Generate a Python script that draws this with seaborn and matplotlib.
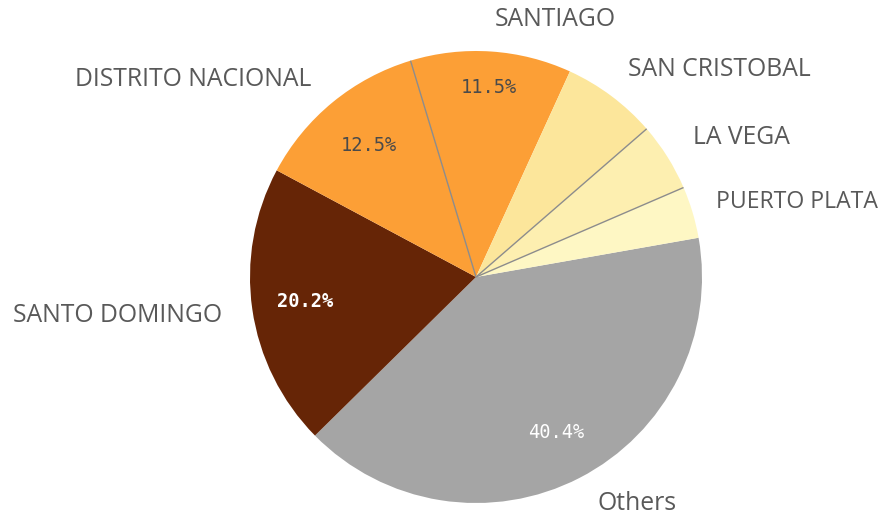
import numpy as np
import matplotlib
matplotlib.use("Agg")
import matplotlib.pyplot as plt
import seaborn as sns

sns.set_theme(style="white")
plt.rcParams['font.family'] = ['Open Sans', 'DejaVu Sans']

# ---- data ----
categories = ["Others", "SANTO DOMINGO", "DISTRITO NACIONAL", "SANTIAGO",
              "SAN CRISTOBAL", "LA VEGA", "PUERTO PLATA"]
shares = [40.4, 20.2, 12.5, 11.5, 6.8, 4.9, 3.7]
pct_labels = ["40.4%", "20.2%", "12.5%", "11.5%", "", "", ""]

# ---- styling / layout ----
colors = ["#a5a5a5", "#662506", "#fc9f36", "#fc9f36", "#fce69b", "#fdefb0", "#fef7c4"]
pct_colors = ["white", "white", "#4a4a4a", "#4a4a4a", "black", "black", "black"]
pct_weight = ["normal", "bold", "normal", "normal", "normal", "normal", "normal"]
pct_dist = [0.775, 0.765, 0.75, 0.84, 0.7, 0.7, 0.7]
# label anchor positions in pixel space (x, y, ha) and font sizes
label_px = [(597, 503, "left"), (222, 315, "right"), (311, 80, "right"),
            (555, 20, "center"), (628, 70, "left"), (693, 137, "left"),
            (716, 202, "left")]
label_size = [17.8, 17.8, 17.8, 17.8, 17.8, 17.8, 16.6]
cx, cy, R = 476, 277, 226
W, H = 893, 517

fig = plt.figure(figsize=(W / 100, H / 100), dpi=100)
ax = fig.add_axes([0, 0, 1, 1])
wedges, _ = ax.pie(shares, colors=colors, startangle=10, counterclock=False,
                   radius=1, center=(0, 0),
                   wedgeprops=dict(linewidth=0, edgecolor="none"))

# thin separator lines between light wedges
sep_after = {2, 4, 5}  # boundary after DN, SC, LV
for i, w in enumerate(wedges):
    if i in sep_after:
        th = np.deg2rad(w.theta1)
        ax.plot([0, np.cos(th)], [0, np.sin(th)], color="#8c8c8c", lw=1.0,
                solid_capstyle="butt", zorder=3)

# percentage labels
for i, w in enumerate(wedges):
    if not pct_labels[i]:
        continue
    mid = np.deg2rad((w.theta1 + w.theta2) / 2)
    d = pct_dist[i]
    ax.text(d * np.cos(mid), d * np.sin(mid), pct_labels[i],
            ha="center", va="center", fontsize=13.5,
            family="DejaVu Sans Mono", color=pct_colors[i],
            fontweight=pct_weight[i], zorder=4)

# category labels
for name, (px, py, ha), fs in zip(categories, label_px, label_size):
    ax.text((px - cx) / R, (cy - py) / R, name, ha=ha, va="center",
            fontsize=fs, color="#595959", zorder=4)

ax.set_xlim((0 - cx) / R, (W - cx) / R)
ax.set_ylim((cy - H) / R, (cy - 0) / R)
ax.set_aspect("auto")
ax.axis("off")
fig.savefig("out.png", dpi=100, facecolor="white")
